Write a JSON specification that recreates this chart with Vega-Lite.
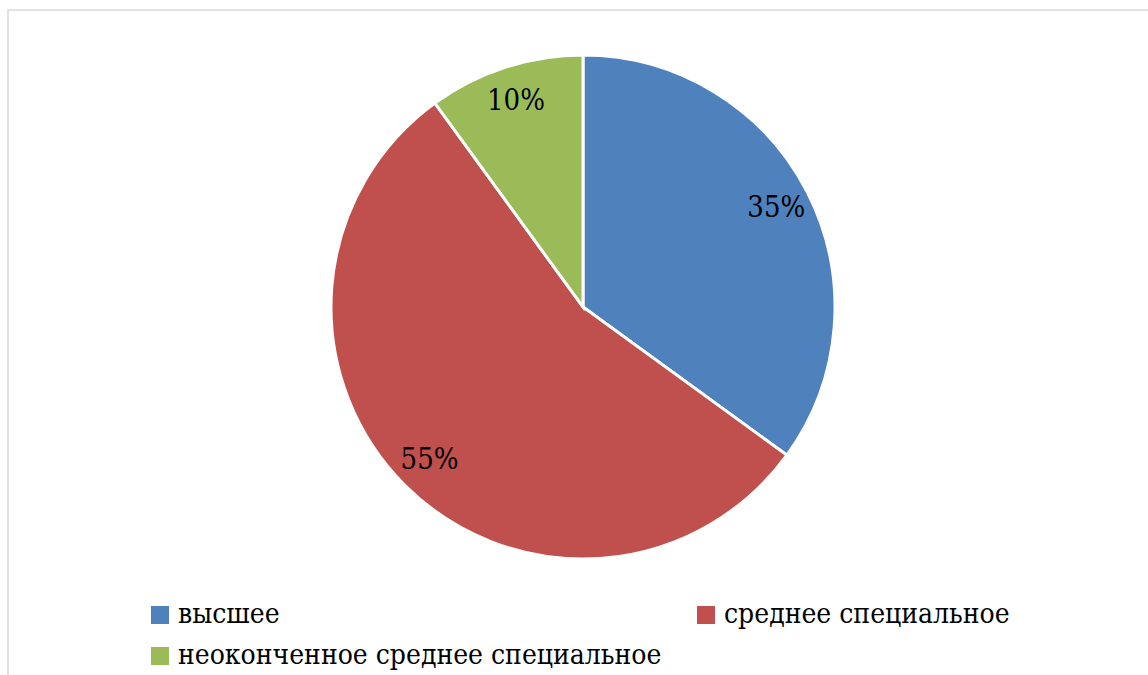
{
  "$schema": "https://vega.github.io/schema/vega-lite/v6.json",
  "autosize": "none",
  "padding": {"left": 8, "top": 10, "right": 0, "bottom": 0},
  "width": 1150,
  "height": 700,
  "background": "white",
  "view": {"stroke": "#d9d9d9", "strokeWidth": 1.5, "fill": "white"},
  "data": {
    "values": [
      {"category": "высшее", "value": 35, "label": "35%", "order": 1},
      {"category": "среднее специальное", "value": 55, "label": "55%", "order": 2},
      {"category": "неоконченное среднее специальное", "value": 10, "label": "10%", "order": 3}
    ]
  },
  "encoding": {
    "theta": {"field": "value", "type": "quantitative", "stack": true},
    "order": {"field": "order", "type": "quantitative"}
  },
  "layer": [
    {
      "mark": {"type": "arc", "radius": 252, "stroke": "white", "strokeWidth": 3, "x": {"expr": "width/2"}, "y": 297},
      "encoding": {
        "color": {
          "field": "category",
          "type": "nominal",
          "sort": ["высшее", "среднее специальное", "неоконченное среднее специальное"],
          "scale": {
            "domain": ["высшее", "среднее специальное", "неоконченное среднее специальное"],
            "range": ["#4F81BD", "#C0504D", "#9BBB59"]
          },
          "legend": {
            "orient": "none",
            "legendX": 138,
            "legendY": 591,
            "direction": "horizontal",
            "columns": 2,
            "title": null,
            "symbolType": "square",
            "symbolSize": 324,
            "symbolStrokeWidth": 0,
            "labelFont": "DejaVu Serif Condensed",
            "labelFontSize": 28,
            "labelColor": "black",
            "labelOffset": 4,
            "labelLimit": 1000,
            "rowPadding": 13,
            "columnPadding": 30
          }
        }
      }
    },
    {
      "mark": {"type": "text", "radius": 217, "fontSize": 29, "font": "DejaVu Serif Condensed", "color": "black", "x": {"expr": "width/2"}, "y": 297, "baseline": "middle", "align": "center"},
      "encoding": {
        "text": {"field": "label", "type": "nominal"}
      }
    }
  ]
}
